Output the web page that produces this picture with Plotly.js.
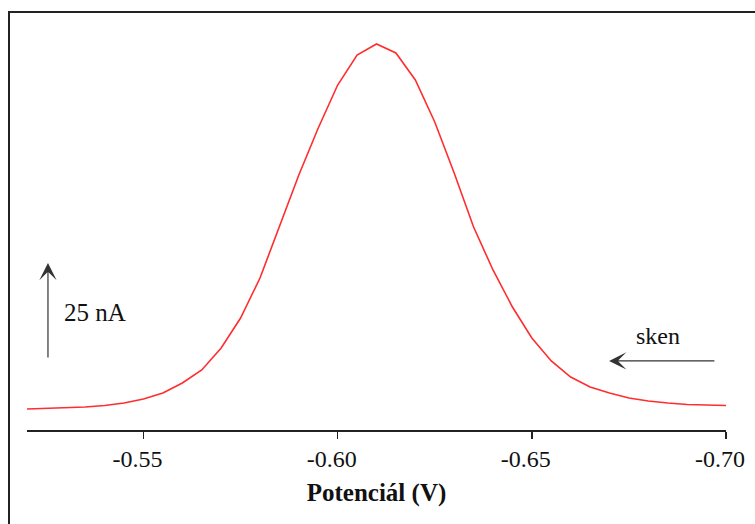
<!DOCTYPE html>
<html>
<head>
<meta charset="utf-8">
<script src="https://cdn.plot.ly/plotly-3.0.1.min.js"></script>
<style>
  html, body { margin: 0; padding: 0; background: #fff; }
  #wrap { position: relative; width: 755px; height: 524px; overflow: hidden; }
  #chart { position: absolute; left: 0; top: 0; width: 755px; height: 524px; }
  #frame { position: absolute; left: 8px; top: 11px; width: 800px; height: 600px;
           border-left: 2px solid #222; border-top: 2px solid #222; pointer-events: none; }
</style>
</head>
<body>
<div id="wrap">
  <div id="chart"></div>
  <div id="frame"></div>
</div>
<script>
// Potential (V), scanned from -0.52 to -0.70 V
const potential = [
  -0.520, -0.525, -0.530, -0.535, -0.540, -0.545, -0.550, -0.555, -0.560, -0.565,
  -0.570, -0.575, -0.580, -0.585, -0.590, -0.595, -0.600, -0.605, -0.610, -0.615,
  -0.620, -0.625, -0.630, -0.635, -0.640, -0.645, -0.650, -0.655, -0.660, -0.665,
  -0.670, -0.675, -0.680, -0.685, -0.690, -0.695, -0.700
];
// Current (nA)
const current = [
  5.47, 5.60, 5.73, 5.99, 6.38, 7.03, 8.07, 9.64, 12.24, 15.63,
  21.35, 29.17, 39.58, 52.86, 66.41, 78.65, 89.84, 97.66, 100.52, 98.18,
  91.15, 80.21, 66.93, 52.86, 41.67, 32.03, 23.96, 17.97, 13.80, 11.20,
  9.64, 8.33, 7.55, 7.03, 6.64, 6.51, 6.38
];
const tickVals = [-0.55, -0.60, -0.65, -0.70];
const tickText = ['-0.55', '-0.60', '-0.65', '-0.70'];
const xRange = [-0.52, -0.70];
const yRange = [0, 106.77];

// Scale bar: 25 nA
const scaleX = -0.5254;
const scaleBase = 18.5;
const scaleLen = 25;
const scaleLabel = '25 nA';
const scaleLabelX = -0.5290;
const scaleLabelY = 30.7;

// Scan direction arrow
const scanFromX = -0.6974;
const scanToX = -0.6699;
const scanY = 18.0;
const scanLabel = 'sken';
const scanLabelX = -0.6825;
const scanLabelY = 24.5;

const serif = 'Liberation Serif';

const trace = {
  x: potential,
  y: current,
  type: 'scatter',
  mode: 'lines',
  line: { color: 'rgb(255,45,45)', width: 1.6 },
  hoverinfo: 'skip'
};

const layout = {
  width: 755,
  height: 524,
  margin: { l: 27, r: 29, t: 20, b: 94 },
  paper_bgcolor: 'rgba(0,0,0,0)',
  plot_bgcolor: 'rgba(0,0,0,0)',
  showlegend: false,
  xaxis: {
    range: xRange,
    tickvals: tickVals,
    ticktext: tickText,
    ticks: 'outside',
    ticklen: 7,
    tickwidth: 1.5,
    tickcolor: '#222',
    showline: true,
    linecolor: '#222',
    linewidth: 1.5,
    showgrid: false,
    zeroline: false,
    ticklabelshift: 6,
    tickfont: { family: serif, size: 24, color: '#111' },
    title: {
      text: '<b>Potenciál (V)</b>',
      font: { family: serif, size: 25, color: '#111' },
      standoff: 12
    },
    automargin: false
  },
  yaxis: {
    range: yRange,
    visible: false,
    showgrid: false,
    zeroline: false
  },
  annotations: [
    {
      x: scaleX, y: scaleBase + scaleLen, xref: 'x', yref: 'y',
      ax: scaleX, ay: scaleBase, axref: 'x', ayref: 'y',
      showarrow: true, arrowhead: 3, arrowsize: 2.4, arrowwidth: 1.2,
      arrowcolor: '#333', text: ''
    },
    {
      x: scaleLabelX, y: scaleLabelY, xref: 'x', yref: 'y',
      xanchor: 'left', yanchor: 'middle', showarrow: false,
      text: scaleLabel,
      font: { family: serif, size: 25, color: '#111' }
    },
    {
      x: scanToX, y: scanY, xref: 'x', yref: 'y',
      ax: scanFromX, ay: scanY, axref: 'x', ayref: 'y',
      showarrow: true, arrowhead: 3, arrowsize: 2.4, arrowwidth: 1.2,
      arrowcolor: '#333', text: ''
    },
    {
      x: scanLabelX, y: scanLabelY, xref: 'x', yref: 'y',
      xanchor: 'center', yanchor: 'middle', showarrow: false,
      text: scanLabel,
      font: { family: serif, size: 24, color: '#111' }
    }
  ]
};

Plotly.newPlot('chart', [trace], layout, { displayModeBar: false, staticPlot: true });
</script>
</body>
</html>
